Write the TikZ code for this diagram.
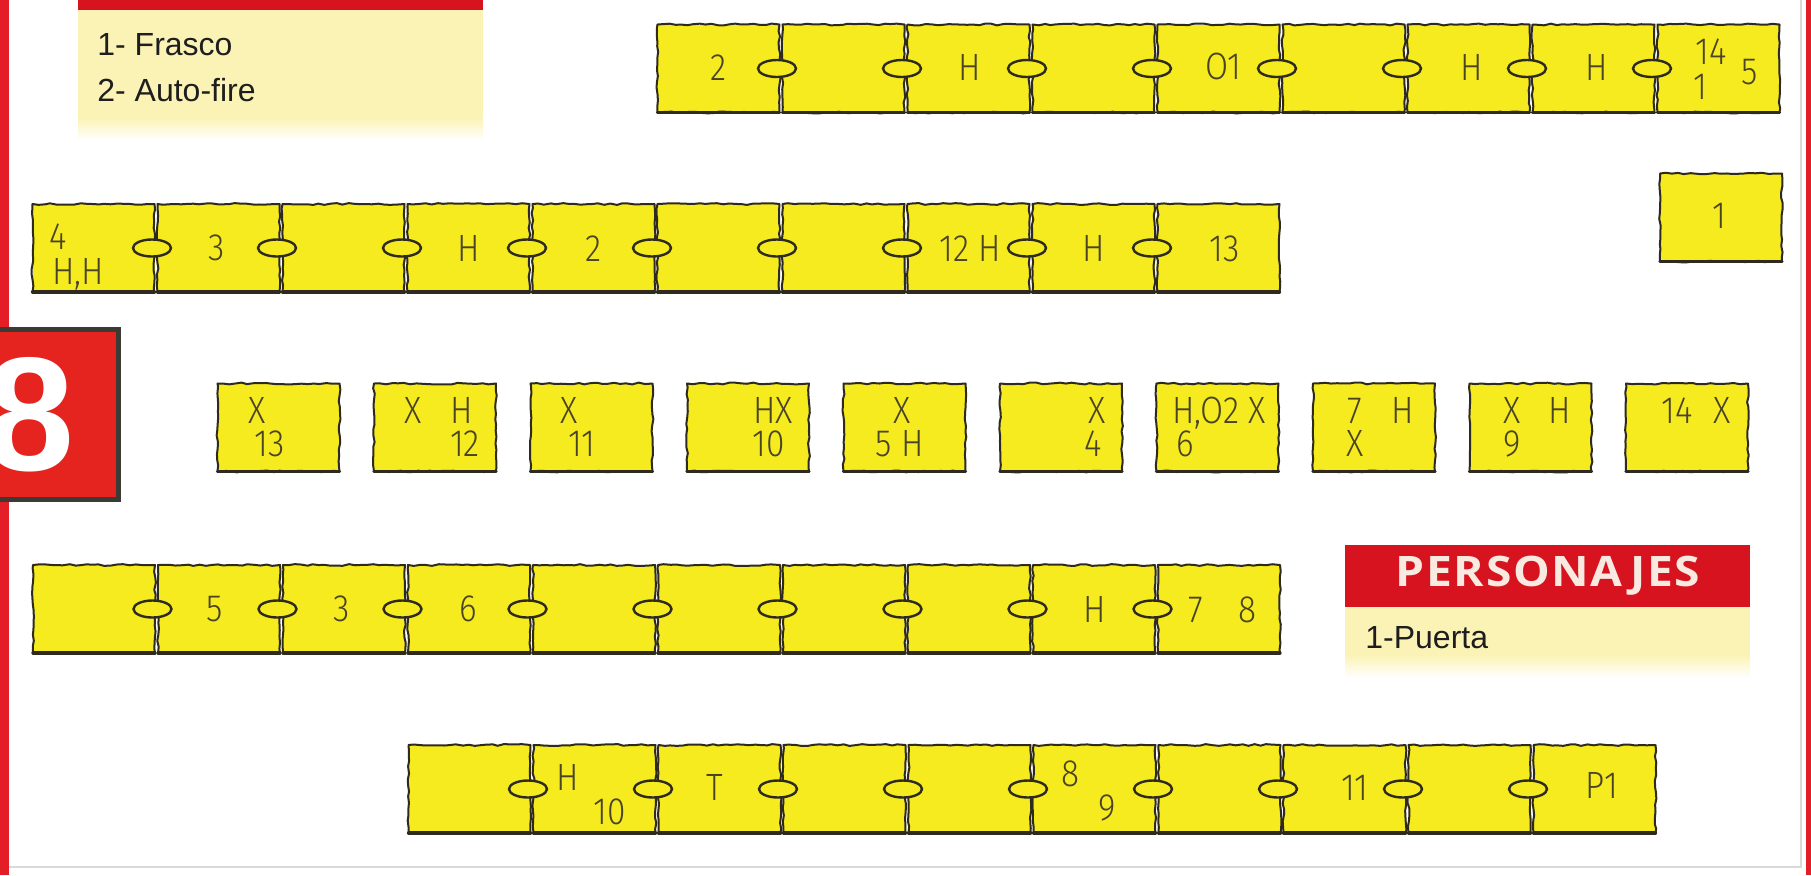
\documentclass[tikz,border=0pt]{standalone}
\usepackage{fontspec}
\setmainfont{Liberation Sans}
\newfontfamily\roomfont[FakeStretch=0.88]{Fira Sans Light}
\newfontfamily\persfont[FakeStretch=1.1,LetterSpace=4]{Open Sans}
\newfontfamily\bigfont{Liberation Sans}
\usetikzlibrary{calc,decorations.pathmorphing,shapes.geometric}
\definecolor{roomyellow}{HTML}{F6EB1E}
\definecolor{roomline}{HTML}{2E2A1E}
\definecolor{labelc}{HTML}{4A4426}
\definecolor{paleyellow}{HTML}{FBF3B6}
\definecolor{stripred}{HTML}{E41E26}
\definecolor{headred}{HTML}{D7131F}
\definecolor{badgered}{HTML}{E52420}
\definecolor{badgeedge}{HTML}{3C3A35}
\definecolor{framegray}{HTML}{D9D9D9}
\definecolor{legendtext}{HTML}{1E1E1E}
\definecolor{perstext}{HTML}{F8EAE0}
\tikzset{
  room/.style={rectangle, fill=roomyellow,
    minimum width=61pt, minimum height=44pt, inner sep=0pt, outer sep=0pt},
  roughbox/.style={draw=roomline, line width=1pt, line join=round,
    decorate, decoration={random steps, segment length=3pt, amplitude=0.45pt}},
  roombottom/.style={draw=roomline, line width=1.6pt, line cap=round},
  knob/.style={ellipse, draw=roomline, fill=roomyellow, line width=1.2pt,
    minimum width=19pt, minimum height=8.5pt, inner sep=0pt, xshift=-2pt},
  rl/.style={font=\roomfont\fontsize{19}{19}\selectfont, text=labelc, inner sep=0pt,
    text height=13pt, text depth=0pt},
  legtext/.style={font=\fontsize{16}{16}\selectfont, text=legendtext, inner sep=0pt, anchor=base west},
  perstitle/.style={font=\persfont\bfseries\fontsize{21}{21}\selectfont, text=perstext, inner sep=0pt},
  eightstyle/.style={font=\bigfont\bfseries\fontsize{81}{81}\selectfont, text=white, inner sep=0pt},
}
\begin{document}
\pgfmathsetseed{7}
\begin{tikzpicture}[x=0.5pt,y=-0.5pt]
\useasboundingbox (0,0) rectangle (1811,875);
\fill[white] (0,0) rectangle (1811,875);
% frame
\draw[framegray, line width=0.6pt] (1801,0) -- (1801,867) -- (9,867);
\fill[stripred] (0,0) rectangle (9,875);
\fill[stripred] (1806,0) rectangle (1811,875);
% badge 8
\fill[badgered] (0,327) rectangle (121,502);
\draw[badgeedge, line width=2.6pt] (0,329.6) -- (118.4,329.6) -- (118.4,499.4) -- (0,499.4);
\begin{scope}
  \clip (0,332) rectangle (116,497);
  \node[eightstyle] (eight) at (30,415) {8};
\end{scope}
% legend objetos
\fill[headred] (78,0) rectangle (483,10);
\fill[paleyellow] (78,10) rectangle (483,118);
\shade[top color=paleyellow, bottom color=white] (78,118) rectangle (483,140);
\node[legtext] (obj1) at (97,55) {1- Frasco};
\node[legtext] (obj2) at (97,101) {2- Auto-fire};
% legend personajes
\fill[headred] (1345,545) rectangle (1750,607);
\node[perstitle] (pers) at (1548,576) {PERSONAJES};
\fill[paleyellow] (1345,607) rectangle (1750,655);
\shade[top color=paleyellow, bottom color=white] (1345,655) rectangle (1750,678);
\node[legtext] (pers1) at (1365,648) {1-Puerta};

% ---------- row 1
\node[room] (r1a) at (718.5,68.5) {};
\node[room] (r1b) at (843.5,68.5) {};
\node[room] (r1c) at (968.5,68.5) {};
\node[room] (r1d) at (1093.5,68.5) {};
\node[room] (r1e) at (1218.5,68.5) {};
\node[room] (r1f) at (1343.5,68.5) {};
\node[room] (r1g) at (1468.5,68.5) {};
\node[room] (r1h) at (1593.5,68.5) {};
\node[room] (r1i) at (1718.5,68.5) {};
% lone room
\node[room] (rx) at (1721,217.5) {};
% ---------- row 2
\node[room] (r2a) at (93.5,248) {};
\node[room] (r2b) at (218.5,248) {};
\node[room] (r2c) at (343.5,248) {};
\node[room] (r2d) at (468.5,248) {};
\node[room] (r2e) at (593.5,248) {};
\node[room] (r2f) at (718.5,248) {};
\node[room] (r2g) at (843.5,248) {};
\node[room] (r2h) at (968.5,248) {};
\node[room] (r2i) at (1093.5,248) {};
\node[room] (r2j) at (1218.5,248) {};
% ---------- row 3
\node[room] (r3a) at (278.5,427.5) {};
\node[room] (r3b) at (435,427.5) {};
\node[room] (r3c) at (591.5,427.5) {};
\node[room] (r3d) at (748,427.5) {};
\node[room] (r3e) at (904.5,427.5) {};
\node[room] (r3f) at (1061,427.5) {};
\node[room] (r3g) at (1217.5,427.5) {};
\node[room] (r3h) at (1374,427.5) {};
\node[room] (r3i) at (1530.5,427.5) {};
\node[room] (r3j) at (1687,427.5) {};
% ---------- row 4
\node[room] (r4a) at (94,609) {};
\node[room] (r4b) at (219,609) {};
\node[room] (r4c) at (344,609) {};
\node[room] (r4d) at (469,609) {};
\node[room] (r4e) at (594,609) {};
\node[room] (r4f) at (719,609) {};
\node[room] (r4g) at (844,609) {};
\node[room] (r4h) at (969,609) {};
\node[room] (r4i) at (1094,609) {};
\node[room] (r4j) at (1219,609) {};
% ---------- row 5
\node[room] (r5a) at (469.5,789) {};
\node[room] (r5b) at (594.5,789) {};
\node[room] (r5c) at (719.5,789) {};
\node[room] (r5d) at (844.5,789) {};
\node[room] (r5e) at (969.5,789) {};
\node[room] (r5f) at (1094.5,789) {};
\node[room] (r5g) at (1219.5,789) {};
\node[room] (r5h) at (1344.5,789) {};
\node[room] (r5i) at (1469.5,789) {};
\node[room] (r5j) at (1594.5,789) {};

% ---------- rough outlines of the rooms
\foreach \n in {r1a,r1b,r1c,r1d,r1e,r1f,r1g,r1h,r1i,rx,
  r2a,r2b,r2c,r2d,r2e,r2f,r2g,r2h,r2i,r2j,
  r3a,r3b,r3c,r3d,r3e,r3f,r3g,r3h,r3i,r3j,
  r4a,r4b,r4c,r4d,r4e,r4f,r4g,r4h,r4i,r4j,
  r5a,r5b,r5c,r5d,r5e,r5f,r5g,r5h,r5i,r5j}{
  \draw[roughbox] (\n.south west) rectangle (\n.north east);
  \draw[roombottom] (\n.south west) -- (\n.south east);
}

% ---------- connectors (knobs)
\foreach \r in {1,2,4,5}{
  \foreach \a/\b in {a/b,b/c,c/d,d/e,e/f,f/g,g/h,h/i}{
    \path (r\r\a) -- node[knob] (k\r\a\b) {} (r\r\b);
  }
}
\foreach \r in {2,4,5}{
  \path (r\r i) -- node[knob] (k\r ij) {} (r\r j);
}

% ---------- labels row 1
\node[rl] (t1a) at ($(r1a)+(0,-1)$) {2};
\node[rl] (t1c) at ($(r1c)+(1,-1)$) {H};
\node[rl] (t1e) at ($(r1e)+(5,-2)$) {O1};
\node[rl] (t1g) at ($(r1g)+(3,-1)$) {H};
\node[rl] (t1h) at ($(r1h)+(3,-1)$) {H};
\node[rl] (t1i1) at ($(r1i)+(-7.5,-17.5)$) {14};
\node[rl] (t1i2) at ($(r1i)+(-18.5,17.5)$) {1};
\node[rl] (t1i3) at ($(r1i)+(31.5,2.5)$) {5};
\node[rl] (tx) at ($(rx)+(-2,-2)$) {1};
% labels row 2
\node[rl] (t2a1) at ($(r2a)+(-35.5,-11.5)$) {4};
\node[rl] (t2a2) at ($(r2a)+(-15.5,23.5)$) {H,H};
\node[rl] (t2b) at ($(r2b)+(-2,-1)$) {3};
\node[rl] (t2d) at ($(r2d)+(0,0)$) {H};
\node[rl] (t2e) at ($(r2e)+(0,0)$) {2};
\node[rl] (t2h) at ($(r2h)+(2,0)$) {12 H};
\node[rl] (t2i) at ($(r2i)+(0,0)$) {H};
\node[rl] (t2j) at ($(r2j)+(6,0)$) {13};
% labels row 3
\node[rl] (t3a1) at ($(r3a)+(-21.5,-17.5)$) {X};
\node[rl] (t3a2) at ($(r3a)+(-8.5,15.5)$) {13};
\node[rl] (t3b1) at ($(r3b)+(-22,-17.5)$) {X};
\node[rl] (t3b2) at ($(r3b)+(27,-17.5)$) {H};
\node[rl] (t3b3) at ($(r3b)+(30,15.5)$) {12};
\node[rl] (t3c1) at ($(r3c)+(-22.5,-17.5)$) {X};
\node[rl] (t3c2) at ($(r3c)+(-9.5,15.5)$) {11};
\node[rl] (t3d1) at ($(r3d)+(25,-17.5)$) {HX};
\node[rl] (t3d2) at ($(r3d)+(21,15.5)$) {10};
\node[rl] (t3e1) at ($(r3e)+(-2.5,-17.5)$) {X};
\node[rl] (t3e2) at ($(r3e)+(-4.5,15.5)$) {5 H};
\node[rl] (t3f1) at ($(r3f)+(36,-17.5)$) {X};
\node[rl] (t3f2) at ($(r3f)+(32,15.5)$) {4};
\node[rl] (t3g1) at ($(r3g)+(1.5,-17.5)$) {H,O2 X};
\node[rl] (t3g2) at ($(r3g)+(-32.5,15.5)$) {6};
\node[rl] (t3h1) at ($(r3h)+(-19,-17.5)$) {7};
\node[rl] (t3h2) at ($(r3h)+(29,-17.5)$) {H};
\node[rl] (t3h3) at ($(r3h)+(-19,15.5)$) {X};
\node[rl] (t3i1) at ($(r3i)+(-18.5,-17.5)$) {X};
\node[rl] (t3i2) at ($(r3i)+(29.5,-17.5)$) {H};
\node[rl] (t3i3) at ($(r3i)+(-18.5,15.5)$) {9};
\node[rl] (t3j1) at ($(r3j)+(-10,-17.5)$) {14};
\node[rl] (t3j2) at ($(r3j)+(35,-17.5)$) {X};
% labels row 4
\node[rl] (t4b) at ($(r4b)+(-4,-1)$) {5};
\node[rl] (t4c) at ($(r4c)+(-2,-1)$) {3};
\node[rl] (t4d) at ($(r4d)+(-1,-1)$) {6};
\node[rl] (t4i) at ($(r4i)+(1,0)$) {H};
\node[rl] (t4j1) at ($(r4j)+(-23,0)$) {7};
\node[rl] (t4j2) at ($(r4j)+(28,0)$) {8};
% labels row 5
\node[rl] (t5b1) at ($(r5b)+(-26.5,-12)$) {H};
\node[rl] (t5b2) at ($(r5b)+(15.5,22)$) {10};
\node[rl] (t5c) at ($(r5c)+(-4.5,-2)$) {T};
\node[rl] (t5f1) at ($(r5f)+(-24.5,-16)$) {8};
\node[rl] (t5f2) at ($(r5f)+(12.5,18)$) {9};
\node[rl] (t5h) at ($(r5h)+(10.5,-2)$) {11};
\node[rl] (t5j) at ($(r5j)+(7.5,-4)$) {P1};
\end{tikzpicture}
\end{document}
